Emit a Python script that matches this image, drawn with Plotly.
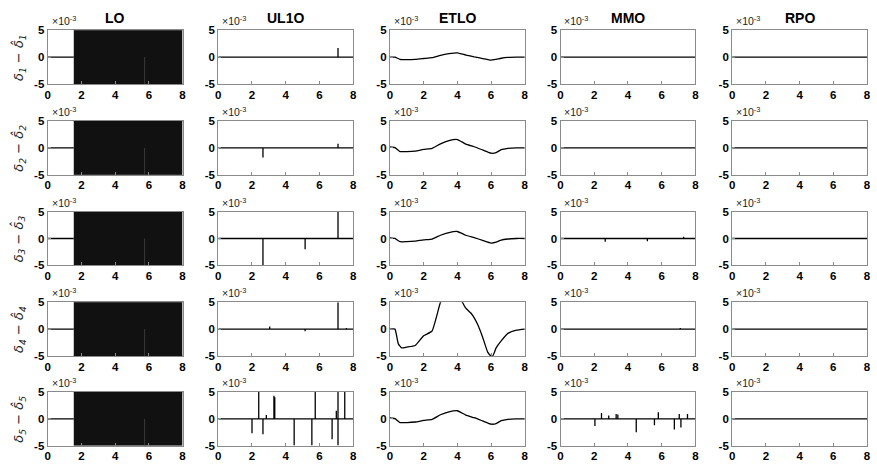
import plotly.graph_objects as go

# ---------------- data (values in units of 1e-3) ----------------
columns = ["LO", "UL1O", "ETLO", "MMO", "RPO"]
row_labels = ["δ<sub>1</sub> − δ̂<sub>1</sub>", "δ<sub>2</sub> − δ̂<sub>2</sub>",
              "δ<sub>3</sub> − δ̂<sub>3</sub>", "δ<sub>4</sub> − δ̂<sub>4</sub>",
              "δ<sub>5</sub> − δ̂<sub>5</sub>"]
x_ticks = [0, 2, 4, 6, 8]
y_ticks = [-5, 0, 5]
y_ticktext = ["-5", "0", "5"]

# LO: error is zero until onset, then oscillates saturating the +/-5 band
lo_onset = 1.55
lo_end = 8.0
lo_band = [-5, 5]
lo_gray_t = 5.75
lo_gray_y = [0, -5]

# UL1O: spike times / amplitudes per row
ul1o_t = [
    [7.1],
    [2.65, 7.1],
    [2.65, 5.15, 7.1],
    [3.05, 5.15, 7.1, 7.6],
    [2.0, 2.4, 2.65, 2.85, 3.3, 3.35, 4.5, 5.55, 5.75, 6.75, 7.0, 7.1, 7.1, 7.5],
]
ul1o_a = [
    [1.7],
    [-1.8, 0.75],
    [-5, -2.0, 5],
    [0.5, -0.4, 5, 0.2],
    [-2.7, 5, -2.9, 0.7, 4.3, 4.0, -5, -5, 5, -3.8, 1.5, 5, -5, 5],
]

# ETLO: smooth curves
etlo_t = [0, 0.3, 0.6, 1.0, 1.5, 2.0, 2.5, 3.0, 3.5, 4.0, 4.5, 5.0, 5.5, 6.0, 6.3, 6.6, 7.0, 7.5, 8.0]
etlo_r1 = [0.0, 0.0, -0.4, -0.45, -0.4, -0.25, -0.1, 0.35, 0.65, 0.8, 0.4, 0.05, -0.25, -0.55, -0.4, -0.2, -0.05, 0, 0]
etlo_r2 = [0.15, 0.05, -0.7, -0.7, -0.6, -0.3, -0.1, 0.75, 1.35, 1.55, 0.7, 0.2, -0.4, -1.0, -0.9, -0.35, -0.1, 0, 0]
etlo_r3 = [0.1, 0.0, -0.6, -0.6, -0.5, -0.25, -0.1, 0.6, 1.1, 1.3, 0.6, 0.15, -0.35, -0.85, -0.7, -0.3, -0.1, 0, 0]
etlo_r5 = [0.15, 0.05, -0.7, -0.7, -0.6, -0.3, -0.1, 0.75, 1.3, 1.5, 0.7, 0.2, -0.4, -1.0, -0.9, -0.35, -0.1, 0, 0]
etlo4_t = [0, 0.3, 0.5, 0.7, 1.0, 1.5, 2.0, 2.5, 3.0, 3.5, 4.0, 4.3, 4.5, 4.8, 5.0, 5.2, 5.5, 5.8, 6.0, 6.1, 6.3, 6.6, 7.0, 7.5, 8.0]
etlo_r4 = [0, 0, -2.75, -3.5, -3.35, -3.05, -1.25, -0.35, 5.0, 8.0, 7.0, 5.0, 3.9, 3.0, 2.1, 0.9, -1.5, -4.3, -5.0, -5.0, -3.5, -2.2, -0.8, -0.2, 0]
etlo_rows = [(etlo_t, etlo_r1), (etlo_t, etlo_r2), (etlo_t, etlo_r3), (etlo4_t, etlo_r4), (etlo_t, etlo_r5)]

# MMO: spike times / amplitudes per row
mmo_t = [
    [],
    [],
    [2.65, 5.15, 7.3],
    [7.1],
    [2.04, 2.43, 2.86, 3.3, 3.4, 4.49, 5.57, 5.8, 6.75, 7.04, 7.14, 7.53],
]
mmo_a = [
    [],
    [],
    [-0.6, -0.5, 0.3],
    [0.2],
    [-1.35, 1.1, 0.6, 0.9, 0.8, -2.5, -1.2, 1.2, -2.0, 0.9, -1.6, 0.9],
]

# RPO: zero error everywhere
rpo_t = [0, 8]
rpo_y = [0, 0]

# ---------------- layout geometry ----------------
W, H = 877, 475
col_px = [(45, 181), (217, 353), (390, 526), (562, 698), (735, 871)]
row_px = [(25, 80), (118, 173), (211, 266), (304, 359), (396, 451)]

fig = go.Figure()
line = dict(color="black", width=1.3)


def spike_series(ts, amps):
    xs, ys = [0], [0]
    for t, a in sorted(zip(ts, amps), key=lambda p: p[0]):
        xs += [t, t, t]
        ys += [0, a, 0]
    xs.append(8)
    ys.append(0)
    return xs, ys


annotations = []
for r in range(5):
    for c in range(5):
        i = r * 5 + c + 1
        xa = "x" if i == 1 else f"x{i}"
        ya = "y" if i == 1 else f"y{i}"
        if c == 0:
            fig.add_trace(go.Scatter(x=[0, lo_onset], y=[0, 0], mode="lines", line=line,
                                     xaxis=xa, yaxis=ya, showlegend=False))
            fig.add_trace(go.Scatter(x=[lo_onset, lo_end], y=[lo_band[0]] * 2, mode="lines",
                                     line=dict(color="#111", width=1), xaxis=xa, yaxis=ya, showlegend=False))
            fig.add_trace(go.Scatter(x=[lo_onset, lo_end], y=[lo_band[1]] * 2, mode="lines",
                                     line=dict(color="#111", width=1), fill="tonexty", fillcolor="#111",
                                     xaxis=xa, yaxis=ya, showlegend=False))
            fig.add_trace(go.Scatter(x=[lo_gray_t, lo_gray_t], y=lo_gray_y, mode="lines",
                                     line=dict(color="#3a3a3a", width=1), xaxis=xa, yaxis=ya, showlegend=False))
        elif c == 1:
            xs, ys = spike_series(ul1o_t[r], ul1o_a[r])
            fig.add_trace(go.Scatter(x=xs, y=ys, mode="lines", line=line,
                                     xaxis=xa, yaxis=ya, showlegend=False))
        elif c == 2:
            tt, yy = etlo_rows[r]
            fig.add_trace(go.Scatter(x=tt, y=yy, mode="lines",
                                     line=dict(color="black", width=1.3, shape="spline", smoothing=0.4),
                                     xaxis=xa, yaxis=ya, showlegend=False))
        elif c == 3:
            xs, ys = spike_series(mmo_t[r], mmo_a[r])
            fig.add_trace(go.Scatter(x=xs, y=ys, mode="lines", line=line,
                                     xaxis=xa, yaxis=ya, showlegend=False))
        else:
            fig.add_trace(go.Scatter(x=rpo_t, y=rpo_y, mode="lines", line=line,
                                     xaxis=xa, yaxis=ya, showlegend=False))

        x0, x1 = col_px[c]
        y0, y1 = row_px[r]
        ax_common = dict(showgrid=False, zeroline=False, showline=True, mirror=True,
                         linecolor="#8a8a8a", linewidth=1, ticks="inside", ticklen=3,
                         tickcolor="#8a8a8a",
                         tickfont=dict(family="Liberation Sans, Arial", size=11.5, color="black",
                                       weight="bold"))
        fig.update_layout(**{
            ("xaxis" if i == 1 else f"xaxis{i}"): dict(
                domain=[x0 / W, x1 / W], range=[0, 8], tickvals=x_ticks,
                anchor=ya, fixedrange=True, **ax_common),
            ("yaxis" if i == 1 else f"yaxis{i}"): dict(
                domain=[1 - y1 / H, 1 - y0 / H], range=[-5, 5], tickvals=y_ticks,
                ticktext=y_ticktext, anchor=xa, fixedrange=True, **ax_common),
        })
        annotations.append(dict(text="×10<sup>-3</sup>", xref="paper", yref="paper",
                                x=(x0 + 2) / W, y=1 - (y0 - 1) / H, xanchor="left", yanchor="bottom",
                                showarrow=False, font=dict(family="Liberation Sans, Arial", size=10.5, color="#222")))
    annotations.append(dict(text=row_labels[r], xref="paper", yref="paper",
                            x=16 / W, y=1 - (row_px[r][0] + row_px[r][1]) / 2 / H,
                            xanchor="center", yanchor="middle", textangle=-90, showarrow=False,
                            font=dict(family="DejaVu Sans", size=13, color="#222", style="italic")))

for c, name in enumerate(columns):
    annotations.append(dict(text=f"<b>{name}</b>", xref="paper", yref="paper",
                            x=(col_px[c][0] + col_px[c][1]) / 2 / W, y=1 - 12 / H,
                            xanchor="center", yanchor="middle", showarrow=False,
                            font=dict(family="Liberation Sans, Arial", size=14, color="black")))

fig.update_layout(width=W, height=H, margin=dict(l=0, r=0, t=0, b=0),
                  paper_bgcolor="white", plot_bgcolor="white",
                  annotations=annotations, showlegend=False)

fig.write_html("out.html")
